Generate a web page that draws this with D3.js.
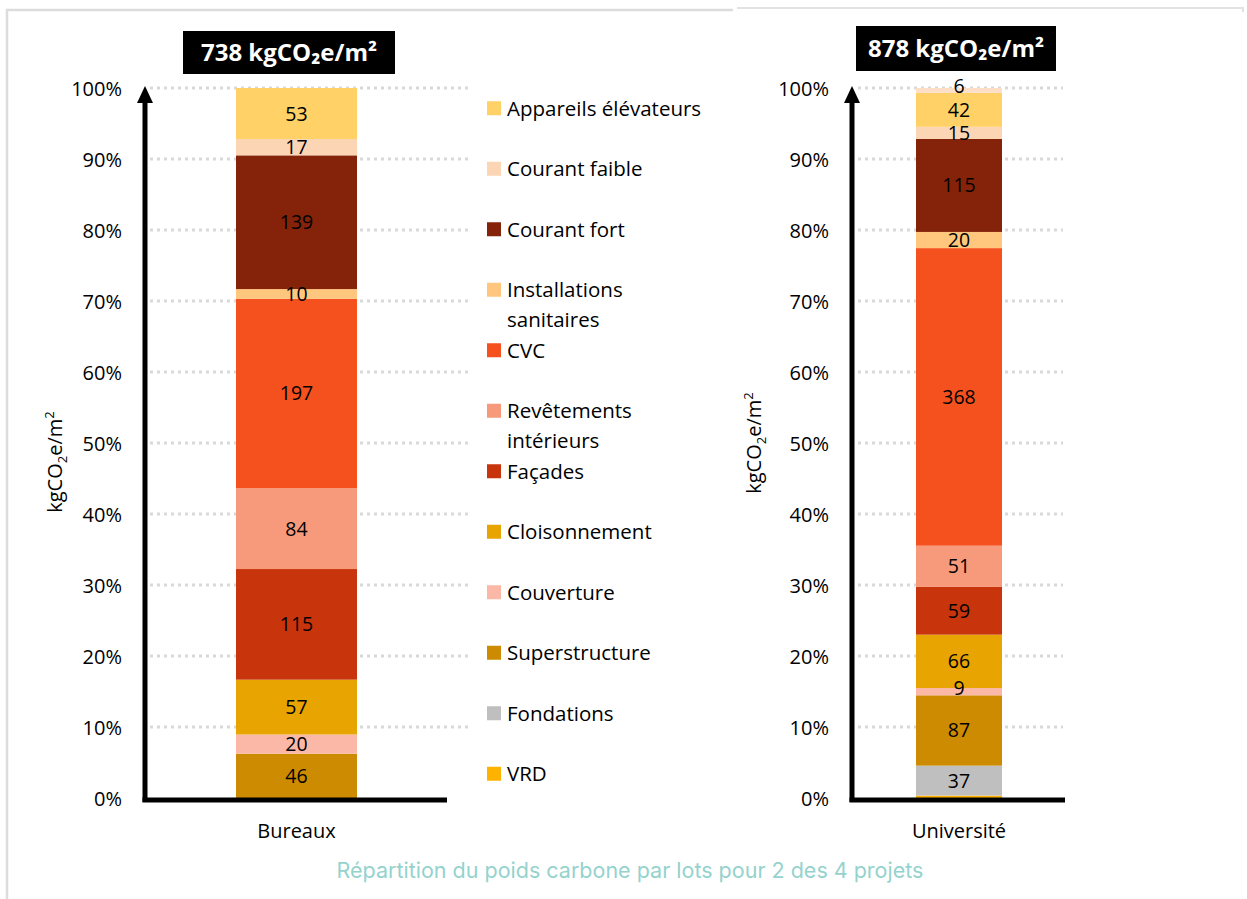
<!DOCTYPE html>
<html><head><meta charset="utf-8">
<script src="https://cdn.jsdelivr.net/npm/d3@7"></script>
<style>
html,body{margin:0;padding:0;background:#fff;}
svg{display:block;font-family:"Open Sans",sans-serif;}
</style></head>
<body><svg id="c" width="1247" height="899"></svg>
<script>
// ---- data ----
const projects = ["Bureaux", "Université"];
const totals = [738, 878];
const lots = ["VRD","Fondations","Superstructure","Couverture","Cloisonnement","Façades",
  "Revêtements intérieurs","CVC","Installations sanitaires","Courant fort","Courant faible",
  "Appareils élévateurs","Autres"];
const bureauxValues =    [0, 0, 46, 20, 57, 115, 84, 197, 10, 139, 17, 53, 0];
const universiteValues = [3, 37, 87, 9, 66, 59, 51, 368, 20, 115, 15, 42, 6];
const lotColors = ["#FFB300","#BFBFBF","#CC8B00","#FBB8A6","#E8A400","#C8350C",
  "#F79A7B","#F5511F","#FFC77D","#85230A","#FCD5B4","#FFD166","#FDDFC8"];
const legendLots = ["Appareils élévateurs","Courant faible","Courant fort","Installations sanitaires",
  "CVC","Revêtements intérieurs","Façades","Cloisonnement","Couverture","Superstructure","Fondations","VRD"];
const legendLines = {"Installations sanitaires":["Installations","sanitaires"],
  "Revêtements intérieurs":["Revêtements","intérieurs"]};
const yTicks = [0,0.1,0.2,0.3,0.4,0.5,0.6,0.7,0.8,0.9,1.0];
const caption = "Répartition du poids carbone par lots pour 2 des 4 projets";

const svg = d3.select("#c");
const color = d3.scaleOrdinal().domain(lots).range(lotColors);

// frames
svg.append("path").attr("d","M7,899 V10 H733").attr("fill","none").attr("stroke","#dcdcdc").attr("stroke-width",2.5);
svg.append("path").attr("d","M737,8 H1243 V12").attr("fill","none").attr("stroke","#e2e2e2").attr("stroke-width",2);

const charts = [
  {name:projects[0], total:totals[0], values:bureauxValues, axisX:145, gridX1:150, gridX2:470, axisEnd:447,
   barX:236, barW:121, tickX:122, yLabX:55, yLabY:462, titleX:183, titleY:31, titleW:212, titleH:43},
  {name:projects[1], total:totals[1], values:universiteValues, axisX:852, gridX1:858, gridX2:1063, axisEnd:1065,
   barX:916, barW:86, tickX:829, yLabX:754, yLabY:443, titleX:856, titleY:26, titleW:200, titleH:45}
];

const y = d3.scaleLinear().domain([0,1]).range([798,88]);

charts.forEach(ch => {
  const g = svg.append("g");
  // gridlines
  g.selectAll("line.grid").data(yTicks.filter(t=>t>0)).join("line")
    .attr("x1",ch.gridX1).attr("x2",ch.gridX2)
    .attr("y1",d=>y(d)).attr("y2",d=>y(d))
    .attr("stroke","#d9d9d9").attr("stroke-width",3).attr("stroke-dasharray","3,4");
  // tick labels via axis
  const ax = g.append("g").attr("transform",`translate(${ch.tickX+8},0)`)
    .call(d3.axisLeft(y).tickValues(yTicks).tickFormat(d3.format(".0%")).tickSize(0).tickPadding(8));
  ax.select(".domain").remove();
  ax.selectAll("text").attr("font-size",20).attr("fill","#000").attr("font-family","Open Sans").attr("dy","0.36em");

  // stacked bar
  const row = {};
  lots.forEach((l,i)=>row[l]=ch.values[i]/ch.total);
  const series = d3.stack().keys(lots)([row]);
  const x = d3.scaleBand().domain([ch.name]).range([ch.barX, ch.barX+ch.barW]).padding(0);
  series.forEach((s,i) => {
    const d = s[0];
    if (ch.values[i] <= 0) return;
    g.append("rect").attr("x",x(ch.name)).attr("width",x.bandwidth())
      .attr("y",y(d[1])).attr("height",y(d[0])-y(d[1])).attr("fill",color(s.key));
  });
  series.forEach((s,i) => {
    const d = s[0];
    if (ch.values[i] < 5) return;
    const h = y(d[0])-y(d[1]);
    const nudge = h < 8 ? -4 : 0;
    g.append("text").attr("x",x(ch.name)+x.bandwidth()/2).attr("y",(y(d[0])+y(d[1]))/2 + nudge)
      .attr("dy","0.36em").attr("text-anchor","middle").attr("font-size",19.5).attr("fill","#000")
      .text(ch.values[i]);
  });

  // axes lines
  g.append("line").attr("x1",ch.axisX).attr("x2",ch.axisX).attr("y1",98).attr("y2",802)
    .attr("stroke","#000").attr("stroke-width",5);
  g.append("line").attr("x1",ch.axisX-2.5).attr("x2",ch.axisEnd).attr("y1",800).attr("y2",800)
    .attr("stroke","#000").attr("stroke-width",5);
  g.append("path").attr("d",`M${ch.axisX},86 L${ch.axisX-8},103 L${ch.axisX+8},103 Z`).attr("fill","#000");

  // category label
  g.append("text").attr("x",x(ch.name)+x.bandwidth()/2).attr("y",838).attr("text-anchor","middle")
    .attr("font-size",20).attr("fill","#000").text(ch.name);

  // y label
  const yl = g.append("text").attr("transform",`translate(${ch.yLabX},${ch.yLabY}) rotate(-90)`)
    .attr("text-anchor","middle").attr("dy","0.36em").attr("font-size",20).attr("fill","#000");
  yl.append("tspan").text("kgCO");
  yl.append("tspan").text("2").attr("font-size",13).attr("dy",5);
  yl.append("tspan").text("e/m").attr("dy",-5);
  yl.append("tspan").text("2").attr("font-size",13).attr("dy",-8);

  // title box
  g.append("rect").attr("x",ch.titleX).attr("y",ch.titleY).attr("width",ch.titleW).attr("height",ch.titleH).attr("fill","#000");
  g.append("text").attr("x",ch.titleX+ch.titleW/2).attr("y",ch.titleY+ch.titleH/2).attr("dy","0.36em")
    .attr("text-anchor","middle").attr("font-size",24).attr("font-weight","bold").attr("fill","#fff")
    .attr("font-family","Open Sans")
    .text(`${ch.total} kgCO₂e/m²`);
});

// legend
const lg = svg.append("g");
const legendY = d3.scaleBand().domain(legendLots).range([78,804]);
legendLots.forEach(l => {
  const cy = legendY(l) + legendY.bandwidth()/2;
  lg.append("rect").attr("x",487).attr("y",cy-7).attr("width",14).attr("height",14).attr("fill",color(l));
  const lines = legendLines[l] || [l];
  lines.forEach((t,j) => {
    lg.append("text").attr("x",507).attr("y",cy + j*30).attr("dy","0.36em")
      .attr("font-size",20.5).attr("fill","#000").text(t);
  });
});

// caption
svg.append("text").attr("x",630).attr("y",870).attr("dy","0.36em").attr("text-anchor","middle")
  .attr("font-family","Inter, 'Liberation Sans', sans-serif").attr("font-size",21.5).attr("fill","#94d3cd")
  .text(caption);
</script></body></html>
